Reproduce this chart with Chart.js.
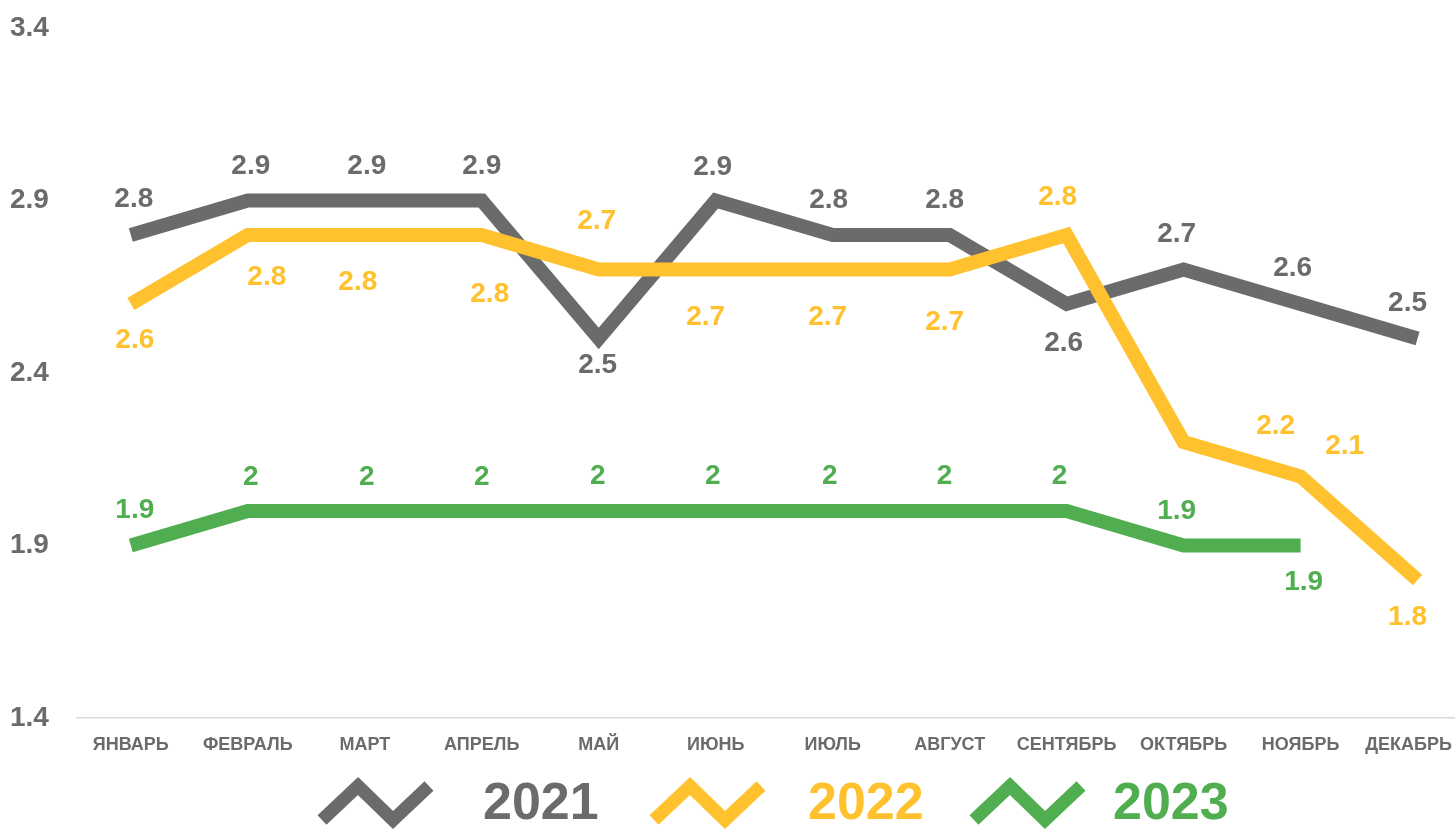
<!DOCTYPE html>
<html>
<head>
<meta charset="utf-8">
<script src="https://cdn.jsdelivr.net/npm/chart.js@4/dist/chart.umd.min.js"></script>
<style>
  html, body { margin: 0; padding: 0; background: #fff; overflow: hidden; }
  #wrap { width: 1455px; height: 829px; }
</style>
</head>
<body>
<div id="wrap"><canvas id="months"></canvas></div>
<script>
const months = ['ЯНВАРЬ', 'ФЕВРАЛЬ', 'МАРТ', 'АПРЕЛЬ', 'МАЙ', 'ИЮНЬ', 'ИЮЛЬ', 'АВГУСТ', 'СЕНТЯБРЬ', 'ОКТЯБРЬ', 'НОЯБРЬ', 'ДЕКАБРЬ']
const yTicks = [1.4, 1.9, 2.4, 2.9, 3.4]

const values2021 = [2.8, 2.9, 2.9, 2.9, 2.5, 2.9, 2.8, 2.8, 2.6, 2.7, 2.6, 2.5]
const values2022 = [2.6, 2.8, 2.8, 2.8, 2.7, 2.7, 2.7, 2.7, 2.8, 2.2, 2.1, 1.8]
const values2023 = [1.9, 2, 2, 2, 2, 2, 2, 2, 2, 1.9, 1.9]

const GREY = '#6b6b6b'
const YELLOW = '#ffc22e'
const GREEN = '#50ae50'
const FONT = 'Arial, "Liberation Sans", sans-serif'

// where each value label sits relative to its point (dx, dy)
const labelPos = {
    '2021': [[3,-36],[3,-34],[2,-34],[0,-34],[-1,27],[-3,-33],[-4,-35],[-5,-35],[-3,39],[-7,-35],[-8,-36],[-10,-35]],
    '2022': [[4,36],[19,42],[-7,47],[8,59],[-2,-48],[-10,48],[-5,48],[-5,53],[-9,-38],[92,-16],[44,-30],[-10,37]],
    '2023': [[4,-35],[3,-34],[2,-34],[0,-34],[-1,-35],[-3,-35],[-3,-35],[-5,-35],[-7,-35],[-7,-34],[3,37]],
}
// legend: [icon left, text left]
const legendSlots = [[318, 483], [650, 808], [970, 1113]]

const toPoints = (arr) => arr.map((v, i) => ({ x: i, y: v }))

const valueLabels = {
    id: 'valueLabels',
    afterDatasetsDraw(chart) {
        const ctx = chart.ctx
        ctx.save()
        ctx.font = 'bold 28px ' + FONT
        ctx.textAlign = 'center'
        ctx.textBaseline = 'middle'
        chart.data.datasets.forEach((ds, di) => {
            const meta = chart.getDatasetMeta(di)
            const offs = labelPos[ds.label]
            ctx.fillStyle = ds.borderColor
            meta.data.forEach((pt, i) => {
                const o = offs[i] || [0, -35]
                ctx.fillText(String(ds.data[i].y), pt.x + o[0], pt.y + o[1])
            })
        })
        ctx.restore()
    }
}

const zigLegend = {
    id: 'zigLegend',
    afterDraw(chart) {
        const ctx = chart.ctx
        ctx.save()
        ctx.font = 'bold 52px ' + FONT
        ctx.textBaseline = 'middle'
        ctx.textAlign = 'left'
        const yTop = 786, yBot = 820, yText = 805
        chart.data.datasets.forEach((ds, i) => {
            const [x, tx] = legendSlots[i]
            ctx.strokeStyle = ds.borderColor
            ctx.lineWidth = 13
            ctx.lineCap = 'butt'
            ctx.lineJoin = 'miter'
            ctx.beginPath()
            ctx.moveTo(x + 4, yBot)
            ctx.lineTo(x + 40, yTop)
            ctx.lineTo(x + 75, yBot)
            ctx.lineTo(x + 111, yTop)
            ctx.stroke()
            ctx.fillStyle = ds.borderColor
            ctx.fillText(ds.label, tx, yText)
        })
        ctx.restore()
    }
}

const lineStyle = {
    borderWidth: 14,
    pointRadius: 0,
    pointHoverRadius: 0,
    tension: 0,
    borderJoinStyle: 'miter',
    borderCapStyle: 'butt',
    fill: false,
}

const monthsChart = new Chart(
    document.getElementById('months'),
    {
        type: 'line',
        data: {
            datasets: [
                { label: '2021', data: toPoints(values2021), borderColor: GREY, backgroundColor: GREY, order: 3, ...lineStyle },
                { label: '2022', data: toPoints(values2022), borderColor: YELLOW, backgroundColor: YELLOW, order: 2, ...lineStyle },
                { label: '2023', data: toPoints(values2023), borderColor: GREEN, backgroundColor: GREEN, order: 1, ...lineStyle },
            ]
        },
        options: {
            responsive: true,
            maintainAspectRatio: false,
            animation: false,
            layout: { padding: { top: 28, left: 10, right: 0, bottom: 0 } },
            plugins: {
                legend: { display: false },
                tooltip: { enabled: false },
            },
            scales: {
                x: {
                    type: 'linear',
                    min: -0.46,
                    max: 11.32,
                    grid: { display: false },
                    border: { display: true, color: '#d9d9d9', width: 1.5 },
                    afterBuildTicks: (s) => { s.ticks = months.map((m, i) => ({ value: i })) },
                    afterFit: (s) => {
                        s.height = 111
                        s.paddingLeft = 0
                        s.paddingRight = 0
                    },
                    ticks: {
                        autoSkip: false,
                        maxRotation: 0,
                        padding: 8,
                        color: GREY,
                        font: { family: FONT, size: 18, weight: 'bold' },
                        // last label is nudged inward so it stays inside the canvas
                        callback: (v) => v === months.length - 1 ? months[v] + '\u2002\u2002' : months[v],
                    },
                },
                y: {
                    min: 1.4,
                    max: 3.4,
                    grid: { display: false },
                    border: { display: false },
                    afterBuildTicks: (s) => { s.ticks = yTicks.map((v) => ({ value: v })) },
                    afterFit: (s) => { s.width = 67 },
                    ticks: {
                        crossAlign: 'far',
                        color: GREY,
                        font: { family: FONT, size: 28, weight: 'bold' },
                        callback: (v) => v.toFixed(1),
                    },
                },
            },
        },
        plugins: [valueLabels, zigLegend],
    }
)
</script>
</body>
</html>
